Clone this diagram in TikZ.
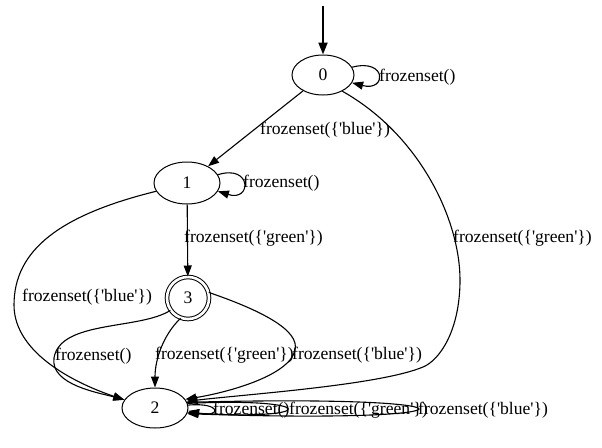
\documentclass[tikz,border=0pt]{standalone}
\usepackage{fontspec}
\setmainfont{Liberation Serif}[Ligatures=TeXOff]
\usetikzlibrary{arrows.meta,shapes.geometric}
\newcommand\fsq[1]{frozenset(\{'#1'\})}
\begin{document}
\begin{tikzpicture}[x=1pt,y=-1pt,
  every node/.style={font=\fontsize{17.6}{20}\selectfont},
  st/.style={draw,ellipse,line width=1pt,inner sep=0pt,minimum width=64pt,minimum height=40pt},
  acc/.style={draw,circle,line width=1pt,double,double distance=2.6pt,inner sep=0pt,minimum size=42pt},
  lab/.style={anchor=west,inner sep=0pt},
  arr/.style={line width=1.1pt,-{Triangle[length=11pt,width=8pt]}}]
\useasboundingbox (0,0) rectangle (602,447);
\node[st,minimum width=62pt] (n0) at (323,75) {0};
\node[st,minimum width=66pt,minimum height=42pt] (n1) at (187,183) {1};
\node[acc] (n3) at (188,298) {3};
\node[st,minimum width=66pt] (n2) at (155,408) {2};
\coordinate (s) at (323,6);
\draw[line width=2pt,-{Triangle[length=12pt,width=9pt]}] (s) -- (n0.north);
% node 0
\draw[arr] (n0.15) .. controls (387,58) and (387,92) .. (n0.-15);
\node[lab] (l0) at (379,77) {frozenset()};
\draw[arr] (n0) -- (n1);
\node[lab] (l01) at (260,130) {\fsq{blue}};
\draw[arr] (n0.-40) .. controls (420,135) and (460,220) .. (460,280)
  .. controls (460,330) and (440,360) .. (423,367)
  .. controls (380,385) and (250,394) .. (n2.12);
\node[lab] (l02) at (453,238) {\fsq{green}};
% node 1
\draw[arr] (n1.15) .. controls (252,164) and (252,202) .. (n1.-15);
\node[lab] (l1) at (243,183) {frozenset()};
\draw[arr] (n1) -- (n3);
\node[lab] (l13) at (184,238) {\fsq{green}};
\draw[arr] (n1.195) .. controls (60,215) and (14,250) .. (14,305)
  .. controls (14,355) and (80,385) .. (n2.165);
\node[lab] (l12) at (22,297) {\fsq{blue}};
% node 3
\draw[arr] (n3.215) .. controls (140,330) and (60,320) .. (54,358)
  .. controls (50,385) and (100,393) .. (n2.165);
\node[lab] (l32a) at (55,356) {frozenset()};
\draw[arr] (n3.250) .. controls (163,335) and (155,360) .. (n2.north);
\node[lab] (l32b) at (155,355) {\fsq{green}};
\draw[arr] (n3.15) .. controls (260,310) and (300,330) .. (295,350)
  .. controls (290,375) and (230,392) .. (n2.16);
\node[lab] (l32c) at (292,355) {\fsq{blue}};
% node 2 loops
\draw[arr] (n2.5) .. controls (222,402) and (222,418) .. (n2.-5);
\node[lab] (l2a) at (213,410) {frozenset()};
\draw[arr] (n2.8) .. controls (320,397) and (320,421) .. (n2.-8);
\node[lab] (l2b) at (289,410) {\fsq{green}};
\draw[arr] (n2.10) .. controls (494,394) and (494,424) .. (n2.-10);
\node[lab] (l2c) at (418,410) {\fsq{blue}};
\end{tikzpicture}
\end{document}
